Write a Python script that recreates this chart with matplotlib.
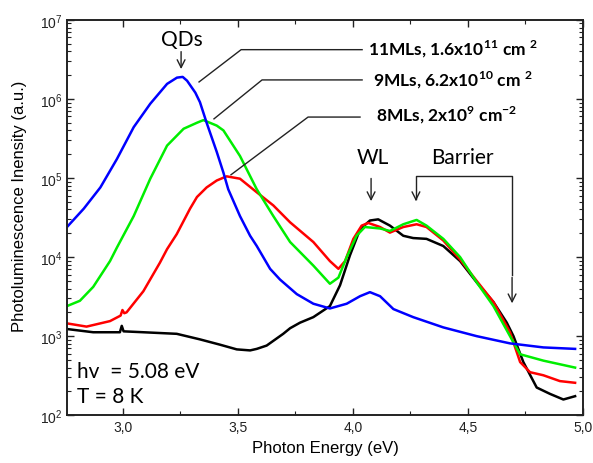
import matplotlib.pyplot as plt
from matplotlib.ticker import MultipleLocator, LogLocator

plt.rcParams['font.family'] = ['Liberation Sans', 'DejaVu Sans']
plt.rcParams['mathtext.fontset'] = 'custom'
plt.rcParams['mathtext.rm'] = 'Lato'
plt.rcParams['mathtext.bf'] = 'Lato:bold'

# -----------------------------
# Data (photon energy in eV, PL intensity in a.u.)
# -----------------------------
e_11ml = [2.757, 2.830, 2.902, 2.974, 3.047, 3.119, 3.192, 3.235, 3.26, 3.279, 3.315, 3.335,
          3.364, 3.408, 3.437, 3.458, 3.509, 3.553, 3.582, 3.64, 3.683, 3.756, 3.828, 3.9,
          3.973, 4.031, 4.074, 4.118, 4.176, 4.262, 4.393, 4.538, 4.683, 4.828, 4.966]
i_11ml = [2.4e4, 4.1e4, 7.6e4, 1.74e5, 4.4e5, 8.7e5, 1.55e6, 1.86e6, 1.9e6, 1.7e6, 1.2e6, 9.1e5,
          5.0e5, 2.14e5, 1.17e5, 7.2e4, 3.3e4, 1.86e4, 1.38e4, 7.1e3, 5.2e3, 3.4e3, 2.57e3, 2.24e3,
          2.57e3, 3.2e3, 3.6e3, 3.2e3, 2.2e3, 1.74e3, 1.29e3, 1.0e3, 810, 720, 690]

e_9ml = [2.757, 2.813, 2.871, 2.944, 2.974, 3.047, 3.119, 3.192, 3.264, 3.322, 3.35, 3.408,
         3.437, 3.509, 3.582, 3.654, 3.727, 3.828, 3.9, 3.937, 3.973, 4.016, 4.052, 4.118, 4.161,
         4.219, 4.277, 4.32, 4.393, 4.466, 4.538, 4.611, 4.683, 4.727, 4.828, 4.966]
i_9ml = [2.4e3, 2.8e3, 4.2e3, 8.9e3, 1.32e4, 3.3e4, 9.8e4, 2.57e5, 4.2e5, 5.0e5, 5.4e5, 4.6e5,
         4.0e5, 1.9e5, 7.2e4, 3.3e4, 1.55e4, 7.8e3, 4.6e3, 5.5e3, 1.0e4, 1.86e4, 2.4e4, 2.3e4, 2.14e4,
         2.6e4, 2.95e4, 2.5e4, 1.7e4, 1.0e4, 4.8e3, 2.4e3, 1.0e3, 590, 490, 400]

e_8ml = [2.757, 2.842, 2.944, 2.99, 2.998, 3.006, 3.016, 3.089, 3.161, 3.192, 3.234, 3.292,
         3.322, 3.364, 3.408, 3.451, 3.509, 3.582, 3.654, 3.727, 3.828, 3.9, 3.937, 3.966, 4.002,
         4.038, 4.067, 4.118, 4.161, 4.219, 4.277, 4.32, 4.393, 4.466, 4.538, 4.611, 4.683, 4.727,
         4.77, 4.828, 4.9, 4.966]
i_8ml = [1.45e3, 1.32e3, 1.55e3, 1.82e3, 2.14e3, 1.95e3, 2.0e3, 3.7e3, 8.5e3, 1.26e4, 1.95e4, 4.1e4,
         5.75e4, 7.6e4, 9.3e4, 1.05e5, 9.8e4, 6.6e4, 4.5e4, 2.75e4, 1.55e4, 8.9e3, 7.1e3, 8.9e3, 1.7e4,
         2.5e4, 2.7e4, 2.4e4, 2.04e4, 2.4e4, 2.6e4, 2.4e4, 1.62e4, 9.3e3, 5.0e3, 2.7e3, 1.12e3, 470,
         350, 320, 270, 257]

e_ref = [2.757, 2.871, 2.987, 2.995, 3.003, 3.089, 3.234, 3.335, 3.422, 3.495, 3.553, 3.582,
         3.625, 3.697, 3.727, 3.77, 3.828, 3.9, 3.944, 3.987, 4.031, 4.074, 4.11, 4.161, 4.219,
         4.262, 4.32, 4.393, 4.466, 4.538, 4.611, 4.669, 4.698, 4.741, 4.799, 4.857, 4.915, 4.966]
i_ref = [1.23e3, 1.12e3, 1.12e3, 1.35e3, 1.15e3, 1.12e3, 1.07e3, 910, 780, 680, 660, 690,
         760, 1.07e3, 1.26e3, 1.48e3, 1.74e3, 2.4e3, 4.4e3, 1.05e4, 2.24e4, 2.9e4, 3.0e4, 2.5e4, 1.86e4,
         1.74e4, 1.7e4, 1.38e4, 8.9e3, 4.8e3, 2.7e3, 1.48e3, 1.0e3, 470, 224, 186, 158, 174]

# -----------------------------
# Figure
# -----------------------------
fig = plt.figure(figsize=(5.93, 4.64), dpi=100)
ax = fig.add_axes([0.113, 0.103, 0.870, 0.852])

ax.plot(e_ref, i_ref, color='black', lw=1.8)
ax.plot(e_8ml, i_8ml, color='#ff0000', lw=1.8)
ax.plot(e_9ml, i_9ml, color='#00ee00', lw=1.8)
ax.plot(e_11ml, i_11ml, color='#0000ff', lw=1.8)

ax.set_yscale('log')
ax.set_xlim(2.757, 5.0)
ax.set_ylim(1e2, 1e7)
ax.xaxis.set_major_locator(MultipleLocator(0.5))
ax.xaxis.set_minor_locator(MultipleLocator(0.25))
ax.yaxis.set_major_locator(LogLocator(base=10))
ax.yaxis.set_minor_locator(LogLocator(base=10, subs=range(2, 10)))
ax.xaxis.set_major_formatter(lambda v, p: f"{v:.1f}".replace('.', ','))
ax.tick_params(which='both', direction='in', top=True, right=True, labelsize=10, colors='#222222')
ax.tick_params(which='major', length=5, width=1)
ax.tick_params(which='minor', length=3, width=0.8)
for s in ax.spines.values():
    s.set_linewidth(1.4)
    s.set_color('#222222')

ax.set_xlabel('Photon Energy (eV)', fontsize=12, labelpad=4)
ax.set_ylabel('Photoluminescence Inensity (a.u.)', fontsize=12)
ax.yaxis.set_label_coords(-0.078, 0.53)

# -----------------------------
# Annotations
# -----------------------------
lato = ['Lato', 'DejaVu Sans']
line_kw = dict(color='#222222', lw=1)
arrow_kw = dict(arrowstyle='->', color='#222222', lw=1, mutation_scale=14)

ax.text(3.257, 5.7e6, 'QDs', ha='center', va='center', family=lato, fontsize=15)
ax.annotate('', xy=(3.253, 2.2e6), xytext=(3.253, 4.3e6), arrowprops=arrow_kw)

ax.plot([3.331, 3.514, 4.04], [1.64e6, 4.2e6, 4.2e6], **line_kw)
ax.text(4.066, 4.4e6, r'11MLs, 1.6x10$^{\mathbf{11}}$ cm $^{\mathbf{2}}$', ha='left', va='center',
        fontweight='bold', family=lato, fontsize=12.5)
ax.plot([3.396, 3.605, 4.04], [5.6e5, 1.74e6, 1.74e6], **line_kw)
ax.text(4.087, 1.78e6, r'9MLs, 6.2x10$^{\mathbf{10}}$ cm $^{\mathbf{2}}$', ha='left', va='center',
        fontweight='bold', family=lato, fontsize=12.5)
ax.plot([3.47, 3.805, 4.031], [1.1e5, 5.9e5, 5.9e5], **line_kw)
ax.text(4.10, 6.4e5, r'8MLs, 2x10$^{\mathbf{9}}$ cm$^{\mathbf{-2}}$', ha='left', va='center',
        fontweight='bold', family=lato, fontsize=12.5)

ax.text(4.087, 1.85e5, 'WL', ha='center', va='center', family=lato, fontsize=15)
ax.annotate('', xy=(4.079, 4.7e4), xytext=(4.079, 1.07e5), arrowprops=arrow_kw)
ax.text(4.474, 1.85e5, 'Barrier', ha='center', va='center', family=lato, fontsize=15)
ax.plot([4.274, 4.274, 4.692, 4.692], [5.5e4, 1.07e5, 1.07e5, 6e3], **line_kw)
ax.annotate('', xy=(4.274, 4.7e4), xytext=(4.274, 6e4), arrowprops=arrow_kw)
ax.annotate('', xy=(4.692, 2.4e3), xytext=(4.692, 6e3), arrowprops=arrow_kw)

ax.text(2.80, 3.6e2, 'hv  = 5.08 eV', ha='left', va='center', family=lato, fontsize=15)
ax.text(2.80, 1.75e2, 'T = 8 K', ha='left', va='center', family=lato, fontsize=15)

fig.savefig('out.png', dpi=100)
